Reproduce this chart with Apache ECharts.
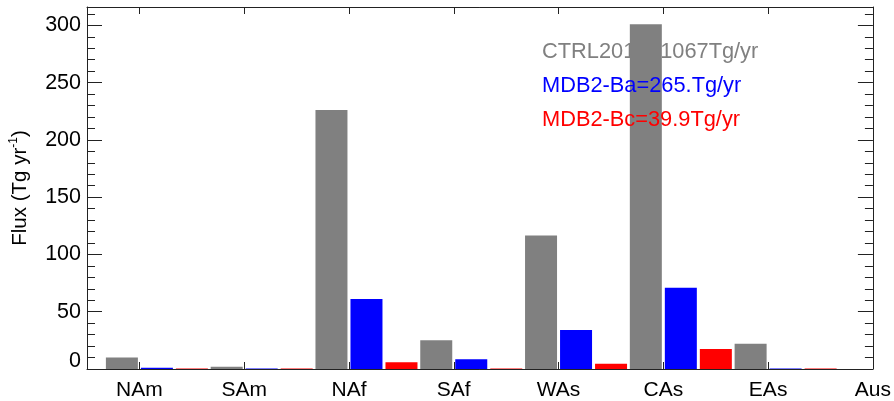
<!DOCTYPE html>
<html>
<head>
<meta charset="utf-8">
<script src="https://cdn.jsdelivr.net/npm/echarts@6/dist/echarts.min.js"></script>
<style>
  html, body { margin: 0; padding: 0; background: #fff; }
  #chart { width: 894px; height: 401px; }
</style>
</head>
<body>
<div id="chart"></div>
<script>
// Regional dust emission flux per source region (Tg/yr)
const categories = ['NAm', 'SAm', 'NAf', 'SAf', 'WAs', 'CAs', 'EAs', 'Aus'];
const ctrlFlux  = [10, 2, 226, 25, 116.5, 301, 22, null];
const mdbBaFlux = [1, 0.5, 61, 8.5, 34, 71, 0.5, null];
const mdbBcFlux = [0.5, 0.5, 6, 0.5, 4.5, 17.5, 0.5, null];
const seriesNames = ['CTRL2016=1067Tg/yr', 'MDB2-Ba=265.Tg/yr', 'MDB2-Bc=39.9Tg/yr'];
const seriesColors = ['#808080', '#0000ff', '#ff0000'];
const yTicks = [0, 50, 100, 150, 200, 250, 300];
const yMax = 316;

const FONT = '"Liberation Sans", Arial, Helvetica, sans-serif';
const AXIS_COLOR = '#222';

const chart = echarts.init(document.getElementById('chart'), null, { renderer: 'canvas' });

function toPoints(values) {
  return values.map((v, i) => [i, v]);
}

const xCommon = {
  type: 'value',
  min: -0.5,
  max: categories.length - 1,
  minInterval: 1,
  maxInterval: 1,
  splitNumber: 8,
  splitLine: { show: false },
  axisLine: { show: true, onZero: false, lineStyle: { color: AXIS_COLOR, width: 1 } },
  axisTick: { show: true, inside: true, length: 7, lineStyle: { color: AXIS_COLOR, width: 1 } }
};

const yCommon = {
  type: 'value',
  min: 0,
  max: yMax,
  interval: 50,
  splitLine: { show: false },
  axisLine: { show: true, onZero: false, lineStyle: { color: AXIS_COLOR, width: 1 } },
  axisTick: { show: true, inside: true, length: 15, lineStyle: { color: AXIS_COLOR, width: 1 } },
  minorTick: { show: true, splitNumber: 5, length: 8, lineStyle: { color: AXIS_COLOR, width: 1 } }
};

const barSeries = [ctrlFlux, mdbBaFlux, mdbBcFlux].map((vals, k) => ({
  type: 'bar',
  name: seriesNames[k],
  xAxisIndex: 0,
  yAxisIndex: 0,
  data: toPoints(vals),
  barWidth: 32,
  barGap: '9.4%',
  itemStyle: { color: seriesColors[k] },
  z: 2,
  animation: false
}));

// empty leading column so each group sits just right of its tick
const spacer = {
  type: 'bar',
  name: 'spacer',
  xAxisIndex: 0,
  yAxisIndex: 0,
  data: categories.map((c, i) => [i, null]),
  barWidth: 32,
  barGap: '9.4%',
  silent: true,
  animation: false
};

const legendTexts = seriesNames.map((name, k) => ({
  type: 'text',
  left: 542,
  top: 41 + k * 34,
  z: 10,
  style: {
    text: name,
    fill: seriesColors[k],
    font: '21.8px ' + FONT
  }
}));

chart.setOption({
  animation: false,
  backgroundColor: '#fff',
  grid: { left: 86, right: 20, top: 7, bottom: 31, containLabel: false },
  xAxis: [
    Object.assign({}, xCommon, {
      position: 'bottom',
      axisLabel: {
        show: true,
        margin: 11,
        color: '#000',
        fontFamily: FONT,
        fontSize: 21,
        formatter: v => (Number.isInteger(v) && categories[v] !== undefined) ? categories[v] : ''
      }
    }),
    Object.assign({}, xCommon, {
      position: 'top',
      axisLabel: { show: false }
    })
  ],
  yAxis: [
    Object.assign({}, yCommon, {
      position: 'left',
      name: '{m|Flux (Tg yr}{s|-1}{m|)}',
      nameLocation: 'middle',
      nameRotate: 90,
      nameGap: 55,
      nameTextStyle: {
        rich: {
          m: { fontFamily: FONT, fontSize: 20.5, color: '#000', lineHeight: 24 },
          s: { fontFamily: FONT, fontSize: 12, color: '#000', verticalAlign: 'top', lineHeight: 24 }
        }
      },
      axisLabel: {
        show: true,
        margin: 6,
        color: '#000',
        fontFamily: FONT,
        fontSize: 21.5,
        formatter: v => {
          if (yTicks.indexOf(v) < 0) return '';
          return v === 0 ? '{z|0}' : String(v);
        },
        rich: {
          z: { fontFamily: FONT, fontSize: 21.5, color: '#000', padding: [0, 0, 16, 0] }
        }
      }
    }),
    Object.assign({}, yCommon, {
      position: 'right',
      axisLabel: { show: false }
    })
  ],
  series: [spacer].concat(barSeries),
  graphic: legendTexts
});
</script>
</body>
</html>
